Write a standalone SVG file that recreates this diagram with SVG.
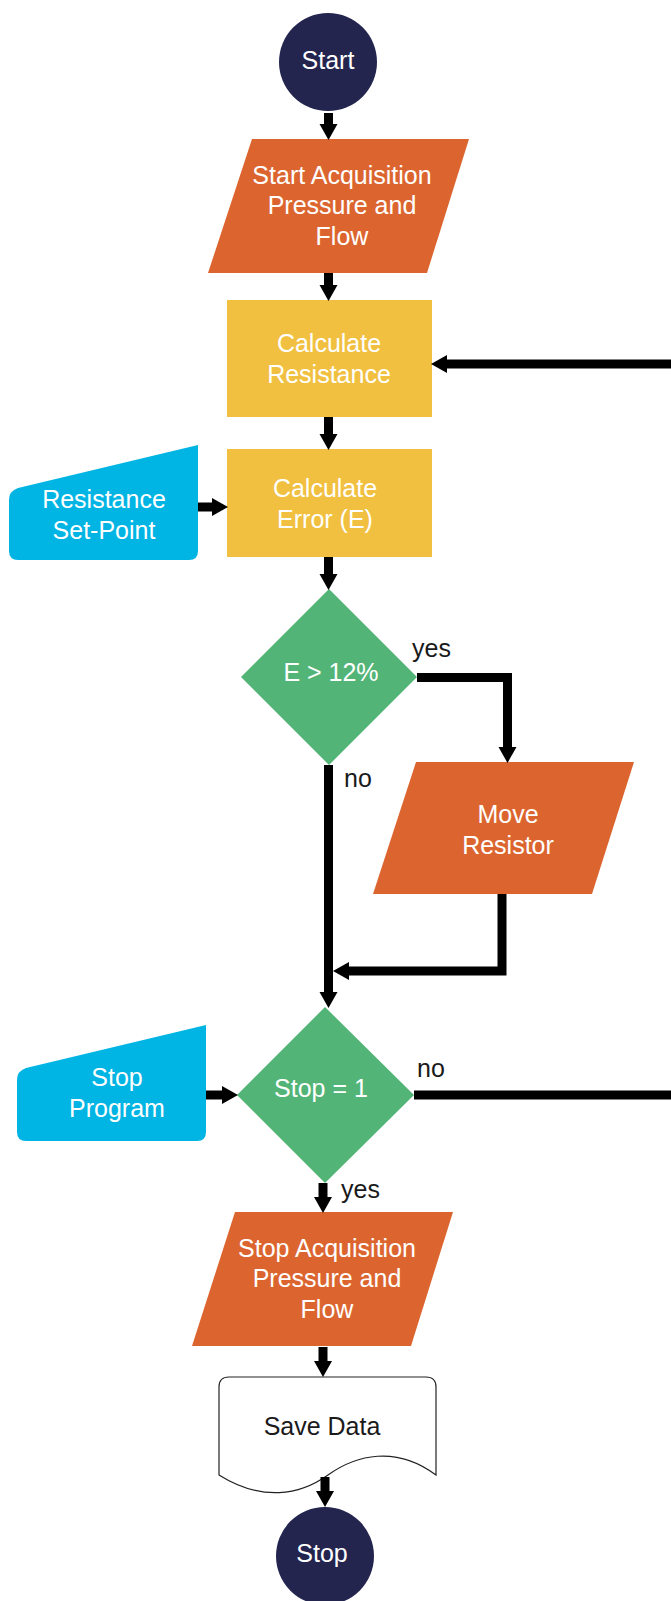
<svg xmlns="http://www.w3.org/2000/svg" width="671" height="1601" viewBox="0 0 671 1601">
<defs>
<style>
.t{font-family:"Liberation Sans",Arial,sans-serif;font-size:25px;fill:#fff;text-anchor:middle}
.lbl{font-family:"Liberation Sans",Arial,sans-serif;font-size:25px;fill:#1a1a1a}
.term{fill:#23254f}
.io{fill:#dc652f}
.proc{fill:#f1c040}
.dec{fill:#52b577}
.man{fill:#00b4e4}
.doc{fill:#fff;stroke:#222;stroke-width:1.2}
.c{fill:none;stroke:#000;stroke-width:9}
</style>
<marker id="ah" markerUnits="userSpaceOnUse" markerWidth="16" markerHeight="20" refX="0" refY="10" orient="auto">
<path d="M0,1 L16,10 L0,19 Z" fill="#000"/>
</marker>
</defs>
<rect width="671" height="1601" fill="#fff"/>

<g id="start">
<circle class="term" cx="328" cy="62" r="49"/>
<text class="t" x="328" y="69">Start</text>
</g>
<g id="startAcq">
<polygon class="io" points="252,139 469,139 427,273 208,273"/>
<text class="t" x="342" y="184">Start Acquisition</text>
<text class="t" x="342" y="214">Pressure and</text>
<text class="t" x="342" y="245">Flow</text>
</g>
<g id="calcRes">
<rect class="proc" x="227" y="300" width="205" height="117"/>
<text class="t" x="329" y="352">Calculate</text>
<text class="t" x="329" y="383">Resistance</text>
</g>
<g id="setPoint">
<path class="man" d="M9,500 Q9,491 18,488 L198,445 L198,551 Q198,560 189,560 L18,560 Q9,560 9,551 Z"/>
<text class="t" x="104" y="508">Resistance</text>
<text class="t" x="104" y="539">Set-Point</text>
</g>
<g id="calcErr">
<rect class="proc" x="227" y="449" width="205" height="108"/>
<text class="t" x="325" y="497">Calculate</text>
<text class="t" x="325" y="528">Error (E)</text>
</g>
<g id="dec1">
<polygon class="dec" points="329,589 417,677 329,765 241,677"/>
<text class="t" x="331" y="681">E &gt; 12%</text>
</g>
<g id="moveRes">
<polygon class="io" points="416,762 634,762 592,894 373,894"/>
<text class="t" x="508" y="823">Move</text>
<text class="t" x="508" y="854">Resistor</text>
</g>
<g id="stopProg">
<path class="man" d="M17,1080 Q17,1071 26,1068 L206,1025 L206,1132 Q206,1141 197,1141 L26,1141 Q17,1141 17,1132 Z"/>
<text class="t" x="117" y="1086">Stop</text>
<text class="t" x="117" y="1117">Program</text>
</g>
<g id="dec2">
<polygon class="dec" points="325,1007 414,1095 325,1183 237,1095"/>
<text class="t" x="321" y="1097">Stop = 1</text>
</g>
<g id="stopAcq">
<polygon class="io" points="235,1212 453,1212 411,1346 192,1346"/>
<text class="t" x="327" y="1257">Stop Acquisition</text>
<text class="t" x="327" y="1287">Pressure and</text>
<text class="t" x="327" y="1318">Flow</text>
</g>
<g id="saveData">
<path class="doc" d="M219,1475 V1387 Q219,1377 229,1377 H426 Q436,1377 436,1387 V1475 C396,1445 356,1455 328,1475 C300,1495 262,1502 219,1475 Z"/>
<text class="lbl" x="322" y="1435" text-anchor="middle">Save Data</text>
</g>
<g id="stop">
<circle class="term" cx="325" cy="1556" r="49"/>
<text class="t" x="322" y="1562">Stop</text>
</g>

<g id="connectors">
<path class="c" d="M328.5,113 V124" marker-end="url(#ah)"/>
<path class="c" d="M328.5,273 V285" marker-end="url(#ah)"/>
<path class="c" d="M328.5,417 V434" marker-end="url(#ah)"/>
<path class="c" d="M198,507 H212" marker-end="url(#ah)"/>
<path class="c" d="M328.5,557 V574" marker-end="url(#ah)"/>
<path class="c" d="M417,677.5 H507.5 V747" marker-end="url(#ah)"/>
<path class="c" d="M328.5,765 V992" marker-end="url(#ah)"/>
<path class="c" d="M502,894 V971 H349" marker-end="url(#ah)"/>
<path class="c" d="M206,1095 H222" marker-end="url(#ah)"/>
<path class="c" d="M414,1095 H700 V364 H447" marker-end="url(#ah)"/>
<path class="c" d="M323,1183 V1197" marker-end="url(#ah)"/>
<path class="c" d="M323,1347 V1361" marker-end="url(#ah)"/>
<path class="c" d="M325,1477 V1491" marker-end="url(#ah)"/>
</g>
<g id="labels">
<text class="lbl" x="412" y="657">yes</text>
<text class="lbl" x="344" y="787">no</text>
<text class="lbl" x="417" y="1077">no</text>
<text class="lbl" x="341" y="1198">yes</text>
</g>
</svg>
